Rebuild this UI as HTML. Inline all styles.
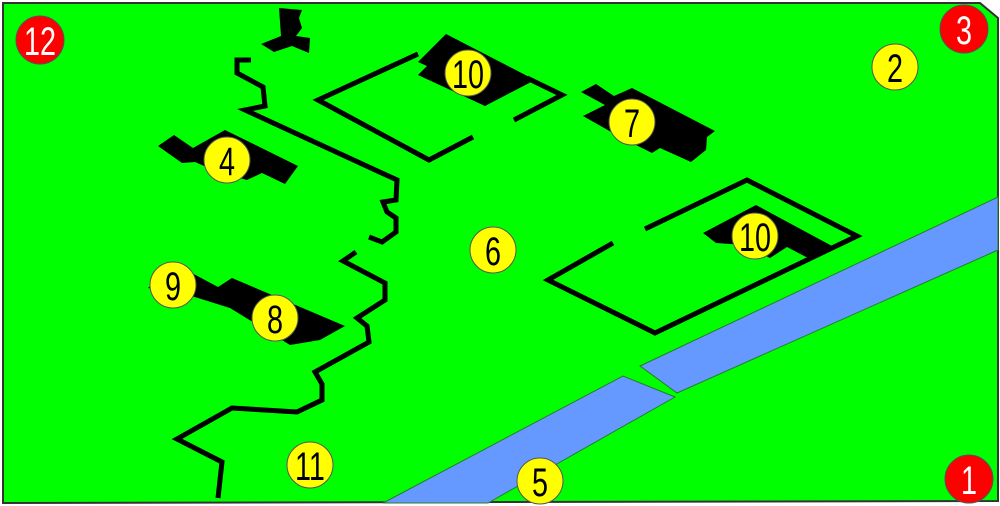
<!DOCTYPE html>
<html><head><meta charset="utf-8"><style>
html,body{margin:0;padding:0;background:#fff;}
svg{display:block;}
text{font-family:"Liberation Sans",sans-serif;font-size:40px;text-anchor:middle;dominant-baseline:central;}
</style></head><body>
<svg width="1000" height="506" viewBox="0 0 1000 506">
<polygon points="3,3 980,3 998,18 998,501 3,503" fill="#00ff00" stroke="#333" stroke-width="2"/>
<polygon points="640,366 998,197 998,250 677,393" fill="#6699ff" stroke="#2a7a2a" stroke-width="1"/>
<polygon points="383,503 623,376 675,397 488,503" fill="#6699ff" stroke="#2a7a2a" stroke-width="1"/>
<g fill="none" stroke="#000" stroke-width="5" stroke-linejoin="miter">
<polyline points="251,60 237,60 237,73 263,87 265,106 245,110 397,180 396,200 383,202 387,212 396,218 396,232 382,242 369,237"/>
<polyline points="356,252 343,261 385,283 385,300 357,318 367,326 369,342 315,372 322,384 322,400 297,412 232,408 177,439 222,462 218,498"/>
<polyline points="473,137 429,160 318,100 418,54"/>
<polyline points="514,120 562,95 527,78"/>
<polyline points="645,229 747,180 857,236 655,333 548,280 613,243"/>
</g>
<g fill="#000">
<polygon points="279,8 302,10 299,18 302,28 296,36 310,38 309,53 292,46 274,52 261,44 281,36"/>
<polygon points="418,62 446,34 535,80 485,106 418,75 427,66"/>
<polygon points="581,92 596,84 614,96 632,88 715,131 707,137 706,150 691,162 660,148 652,153 620,137 583,116 605,105"/>
<polygon points="158,146 174,135 193,148 225,130 298,166 285,184 262,173 247,180 218,172 195,162 182,163"/>
<polygon points="703,233 756,205 832,246 808,258 787,247 770,258 745,245 716,243"/>
<polygon points="148,288 175,264 218,287 232,278 345,326 320,340 290,345 230,308 182,293"/>
</g>
<g stroke="#555" stroke-width="1">
<circle cx="40" cy="40" r="24" fill="#ff0000"/>
<circle cx="964" cy="29" r="24" fill="#ff0000"/>
<circle cx="969" cy="479" r="24" fill="#ff0000"/>
<g fill="#ffff00">
<circle cx="895" cy="67" r="23"/><circle cx="468" cy="73" r="23"/><circle cx="632" cy="122" r="23"/>
<circle cx="227" cy="160" r="23"/><circle cx="755" cy="236" r="23"/><circle cx="493" cy="250" r="23"/>
<circle cx="173" cy="285" r="23"/><circle cx="275" cy="318" r="23"/><circle cx="310" cy="465" r="23"/>
<circle cx="540" cy="481" r="23"/>
</g></g>
<g fill="#fff">
<text transform="translate(40,42) scale(0.72,1)">12</text>
<text transform="translate(964,31) scale(0.72,1)">3</text>
<text transform="translate(969,481) scale(0.72,1)">1</text>
</g>
<g fill="#000">
<text transform="translate(895,69) scale(0.72,1)">2</text>
<text transform="translate(468,75) scale(0.72,1)">10</text>
<text transform="translate(632,124) scale(0.72,1)">7</text>
<text transform="translate(227,162) scale(0.72,1)">4</text>
<text transform="translate(755,238) scale(0.72,1)">10</text>
<text transform="translate(493,252) scale(0.72,1)">6</text>
<text transform="translate(173,287) scale(0.72,1)">9</text>
<text transform="translate(275,320) scale(0.72,1)">8</text>
<text transform="translate(310,467) scale(0.72,1)">11</text>
<text transform="translate(540,483) scale(0.72,1)">5</text>
</g>
</svg>
</body></html>
